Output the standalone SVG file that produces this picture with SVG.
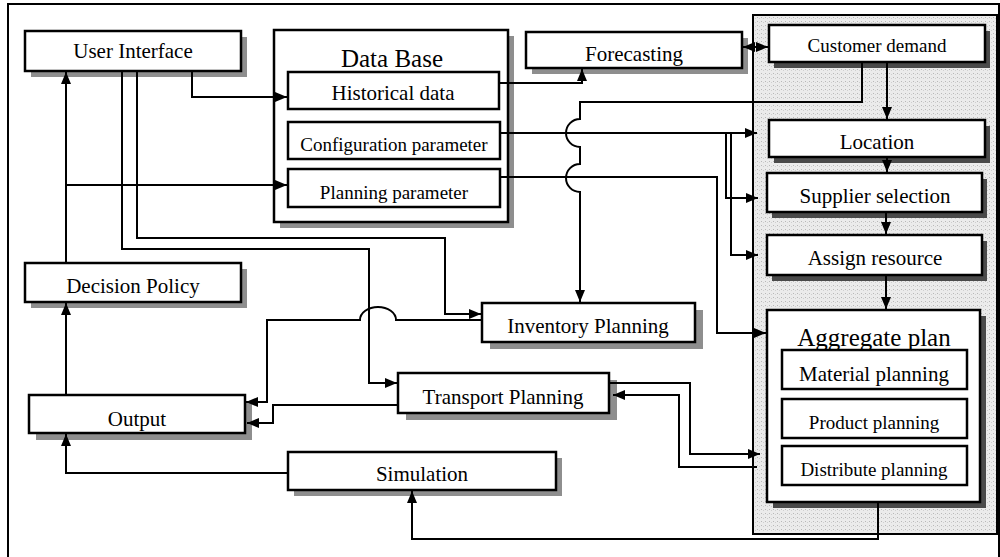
<svg xmlns="http://www.w3.org/2000/svg" width="1000" height="557" viewBox="0 0 1000 557">
<defs>
<pattern id="stip" width="4" height="4" patternUnits="userSpaceOnUse">
<rect width="4" height="4" fill="#ebebeb"/>
<rect x="1" y="1" width="1" height="1" fill="#b8b8b8"/>
<rect x="3" y="2" width="1" height="1" fill="#cfcfcf"/>
</pattern>
<marker id="ah" markerWidth="12" markerHeight="10" refX="12" refY="5" orient="auto" markerUnits="userSpaceOnUse">
<path d="M0,0 L12,5 L0,10 Z" fill="#000"/>
</marker>
<marker id="as" markerWidth="12" markerHeight="10" refX="0" refY="5" orient="auto" markerUnits="userSpaceOnUse">
<path d="M12,0 L0,5 L12,10 Z" fill="#000"/>
</marker>
</defs>
<style>
.box{fill:#fff;stroke:#000;stroke-width:2.5}
.sh{fill:#8e8e8e}
.shd{fill:#4a4a4a}
.t{font-family:"Liberation Serif","Times New Roman",serif;font-size:21px;fill:#000;text-anchor:middle}
.s{font-size:19px}
.big{font-size:25px}
.c{fill:none;stroke:#000;stroke-width:2}
.frame{fill:none;stroke:#000;stroke-width:2}
</style>
<rect width="1000" height="557" fill="#fff"/>
<path class="frame" d="M8,560 V4 H999 V560"/>
<g id="panel">
<rect x="753" y="15" width="244" height="519" fill="url(#stip)" stroke="#000" stroke-width="2"/>
</g>

<g id="user-interface">
<rect class="sh" x="31" y="37" width="216" height="40"/>
<rect class="box" x="25" y="31" width="216" height="40"/>
<text class="t" x="133" y="58">User Interface</text>
</g>
<g id="data-base">
<rect class="sh" x="280" y="36" width="234" height="192"/>
<rect class="box" x="274" y="30" width="234" height="192"/>
<text class="t big" x="392" y="67">Data Base</text>
</g>
<g id="historical-data">
<rect class="box" x="288" y="72" width="211" height="37"/>
<text class="t" x="393" y="100">Historical data</text>
</g>
<g id="configuration-parameter">
<rect class="box" x="288" y="122" width="212" height="37"/>
<text class="t s" x="394" y="151">Configuration parameter</text>
</g>
<g id="planning-parameter">
<rect class="box" x="288" y="169" width="212" height="38"/>
<text class="t s" x="394" y="199">Planning parameter</text>
</g>
<g id="forecasting">
<rect class="sh" x="532" y="38" width="216" height="36"/>
<rect class="box" x="526" y="32" width="216" height="36"/>
<text class="t" x="634" y="61">Forecasting</text>
</g>
<g id="customer-demand">
<rect class="shd" x="774" y="31" width="216" height="37"/>
<rect class="box" x="769" y="25" width="216" height="37"/>
<text class="t s" x="877" y="52">Customer demand</text>
</g>
<g id="location">
<rect class="shd" x="774" y="126" width="216" height="37"/>
<rect class="box" x="769" y="120" width="216" height="37"/>
<text class="t" x="877" y="149">Location</text>
</g>
<g id="supplier-selection">
<rect class="shd" x="772" y="179" width="215" height="39"/>
<rect class="box" x="767" y="173" width="215" height="39"/>
<text class="t" x="875" y="203">Supplier selection</text>
</g>
<g id="assign-resource">
<rect class="shd" x="772" y="241" width="215" height="40"/>
<rect class="box" x="767" y="235" width="215" height="40"/>
<text class="t" x="875" y="265">Assign resource</text>
</g>
<g id="aggregate-plan">
<rect class="shd" x="773" y="316" width="213" height="192"/>
<rect class="box" x="767" y="310" width="213" height="192"/>
<text class="t big" x="874" y="346">Aggregate plan</text>
</g>
<g id="material-planning">
<rect class="box" x="782" y="350" width="185" height="39"/>
<text class="t" x="874" y="381">Material planning</text>
</g>
<g id="product-planning">
<rect class="box" x="782" y="399" width="185" height="39"/>
<text class="t s" x="874" y="429">Product planning</text>
</g>
<g id="distribute-planning">
<rect class="box" x="782" y="446" width="185" height="39"/>
<text class="t s" x="874" y="476">Distribute planning</text>
</g>
<g id="decision-policy">
<rect class="sh" x="31" y="269" width="216" height="39"/>
<rect class="box" x="25" y="263" width="216" height="39"/>
<text class="t" x="133" y="293">Decision Policy</text>
</g>
<g id="output">
<rect class="sh" x="36" y="402" width="216" height="38"/>
<rect class="box" x="29" y="395" width="216" height="38"/>
<text class="t" x="137" y="426">Output</text>
</g>
<g id="simulation">
<rect class="sh" x="294" y="458" width="268" height="38"/>
<rect class="box" x="288" y="452" width="268" height="38"/>
<text class="t" x="422" y="481">Simulation</text>
</g>
<g id="inventory-planning">
<rect class="sh" x="490" y="310" width="213" height="39"/>
<rect class="box" x="482" y="303" width="213" height="39"/>
<text class="t" x="588" y="333">Inventory Planning</text>
</g>
<g id="transport-planning">
<rect class="sh" x="406" y="380" width="211" height="40"/>
<rect class="box" x="398" y="373" width="211" height="40"/>
<text class="t" x="503" y="404">Transport Planning</text>
</g>

<g id="connectors">
<path class="c" d="M192,71 V97 H287" marker-end="url(#ah)"/>
<path class="c" d="M66,263 V72" marker-end="url(#ah)"/>
<path class="c" d="M66,185 H287" marker-end="url(#ah)"/>
<path class="c" d="M122,71 V249 H369 V383 H397" marker-end="url(#ah)"/>
<path class="c" d="M137,71 V238 H445 V314 H481" marker-end="url(#ah)"/>
<path class="c" d="M482,320 H396 A18 13 0 0 0 360,320 H267 V402 H246" marker-end="url(#ah)"/>
<path class="c" d="M398,405 H273 V423 H247" marker-end="url(#ah)"/>
<path class="c" d="M66,395 V303" marker-end="url(#ah)"/>
<path class="c" d="M288,473 H66 V434" marker-end="url(#ah)"/>
<path class="c" d="M878,502 V539 H412 V491" marker-end="url(#ah)"/>
<path class="c" d="M743,47 H768" marker-start="url(#as)" marker-end="url(#ah)"/>
<path class="c" d="M499,83 H582 V69" marker-end="url(#ah)"/>
<path class="c" d="M887,62 V119" marker-end="url(#ah)"/>
<path class="c" d="M862,62 V102 H580 V119 A14 14 0 0 0 580,147 V164 A14 14 0 0 0 580,192 V302" marker-end="url(#ah)"/>
<path class="c" d="M500,133 H757" marker-end="url(#ah)"/>
<path class="c" d="M726,133 V198 H758" marker-end="url(#ah)"/>
<path class="c" d="M731,133 V255 H758" marker-end="url(#ah)"/>
<path class="c" d="M500,177 H717 V333 H766" marker-end="url(#ah)"/>
<path class="c" d="M887,157 V172" marker-end="url(#ah)"/>
<path class="c" d="M886,212 V234" marker-end="url(#ah)"/>
<path class="c" d="M886,275 V309" marker-end="url(#ah)"/>
<path class="c" d="M609,383 H690 V454 H760" marker-end="url(#ah)"/>
<path class="c" d="M757,467 H679 V395 H613" marker-end="url(#ah)"/>
</g>
</svg>
